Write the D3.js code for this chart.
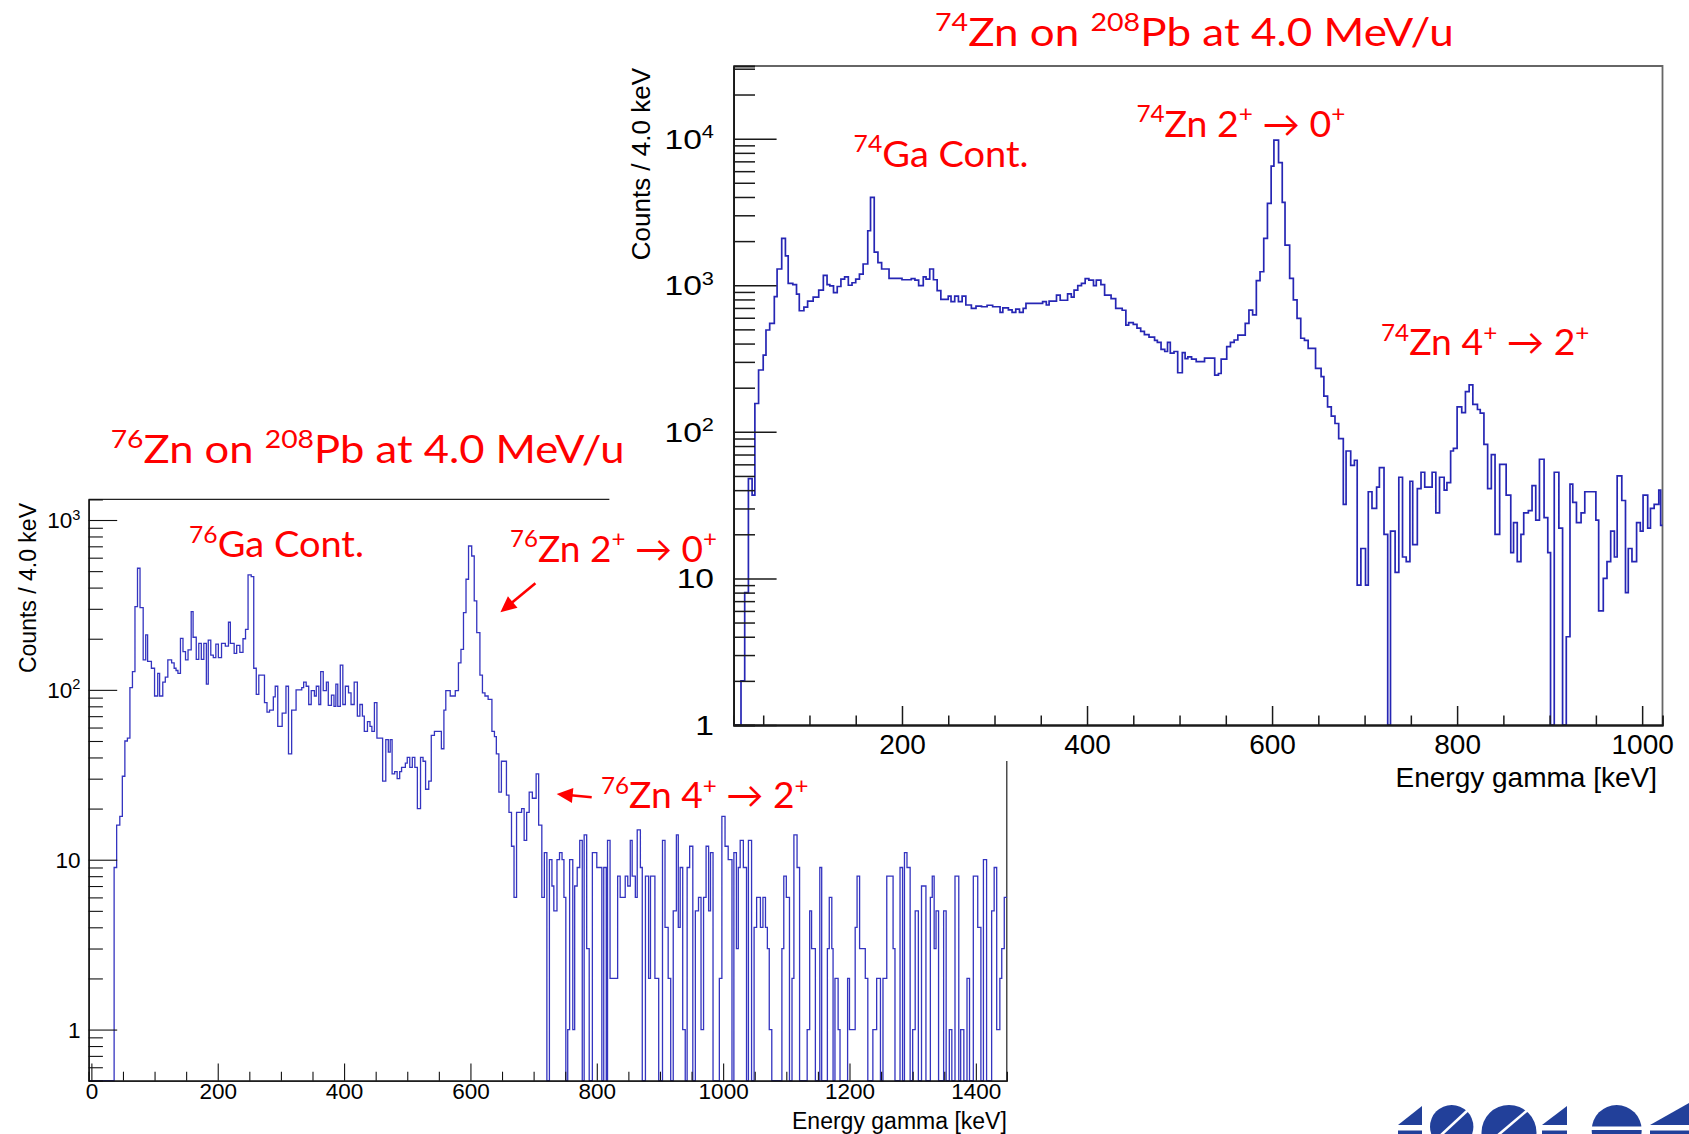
<!DOCTYPE html>
<html>
<head>
<meta charset="utf-8">
<script src="https://cdn.jsdelivr.net/npm/d3@7"></script>
<style>
  html, body { margin: 0; padding: 0; background: #fff; }
  svg { display: block; }
</style>
</head>
<body>
<svg id="chart" width="1689" height="1134"></svg>
<script>
// 74Zn spectrum: start energy of each step (keV) and its counts
const energy74 = [18, 26, 30, 34, 38, 41, 45, 50, 53, 57, 62, 65, 70, 74, 77, 82, 86, 89, 94, 98,
  104, 110, 115, 119, 122, 126, 130, 134, 138, 142, 146, 150, 154, 158, 163, 166, 170, 174, 178, 186,
  200, 210, 214, 218, 223, 226, 230, 234, 238, 242, 250, 253, 257, 261, 265, 269, 275, 280, 286, 292,
  298, 306, 309, 315, 319, 323, 327, 331, 334, 352, 356, 359, 367, 371, 379, 383, 386, 390, 394, 398,
  402, 407, 410, 415, 419, 426, 431, 438, 442, 445, 450, 454, 458, 462, 467, 473, 476, 480, 484, 487,
  490, 494, 498, 503, 506, 509, 513, 518, 527, 538, 542, 545, 551, 555, 559, 563, 571, 575, 579, 583,
  587, 591, 595, 599, 602, 607, 611, 614, 619, 623, 627, 631, 635, 639, 647, 653, 656, 660, 664, 668,
  672, 677, 680, 685, 689, 692, 696, 701, 704, 708, 713, 716, 721, 725, 728, 733, 737, 741, 745, 749,
  752, 757, 761, 765, 773, 777, 781, 786, 789, 793, 796, 800, 805, 809, 813, 817, 822, 825, 829, 833,
  837, 841, 846, 853, 858, 861, 865, 869, 872, 877, 881, 885, 889, 894, 898, 901, 905, 910, 914, 918,
  922, 925, 929, 934, 938, 950, 953, 958, 962, 966, 970, 973, 978, 982, 985, 989, 994, 998, 1001, 1006,
  1009, 1013, 1018, 1020];
const counts74 = [0, 2, 8, 48, 37, 156, 264, 334, 495, 550, 835, 1290, 2090, 1585, 1030, 1010, 870, 670, 708, 780,
  830, 927, 1168, 1010, 990, 889, 980, 1100, 1140, 1000, 1040, 1100, 1192, 1396, 2354, 3980, 1684, 1425, 1290, 1114,
  1090, 1110, 1085, 995, 1140, 1100, 1290, 1090, 918, 801, 844, 772, 844, 772, 844, 733, 695, 720, 713, 730,
  713, 653, 700, 680, 653, 686, 653, 695, 752, 772, 733, 780, 857, 790, 873, 830, 927, 995, 1030, 1110,
  1085, 995, 1085, 1010, 857, 810, 695, 675, 535, 556, 540, 510, 485, 460, 442, 421, 407, 365, 353, 407,
  344, 353, 253, 347, 316, 325, 313, 301, 318, 244, 250, 313, 381, 407, 423, 457, 549, 677, 627, 1074,
  1236, 2090, 3622, 6500, 9770, 6855, 3680, 1880, 1114, 795, 595, 435, 421, 371, 271, 238, 175, 148, 128, 114,
  90, 32, 74, 59, 64, 9, 16, 9, 39, 30, 42, 57, 20, 0, 21, 11, 49, 14, 13, 46,
  17, 41, 53, 42, 53, 28, 49, 40, 45, 74, 77, 148, 135, 188, 209, 154, 142, 134, 82, 41,
  70, 20, 60, 37, 15, 24, 13, 20, 28, 29, 43, 25, 65, 26, 15, 0, 53, 22, 0, 4,
  44, 33, 24, 28, 39, 25, 6, 10, 13, 21, 14, 50, 34, 8, 16, 13, 24, 21, 37, 22,
  30, 32, 40, 23];
const end74 = 1022;

// 76Zn spectrum
const energy76 = [-4, 36, 40, 45, 49, 53, 57, 61, 65, 69, 73, 77, 82, 86, 89, 95, 100, 105, 108, 113,
  117, 121, 127, 131, 134, 137, 141, 145, 149, 153, 158, 161, 166, 170, 174, 178, 182, 185, 189, 193,
  197, 201, 206, 212, 217, 220, 226, 230, 235, 240, 244, 248, 253, 257, 261, 265, 274, 278, 282, 288,
  291, 295, 302, 308, 312, 317, 324, 333, 336, 340, 344, 348, 353, 356, 360, 363, 367, 372, 375, 380,
  384, 387, 390, 394, 398, 402, 407, 411, 416, 421, 425, 429, 432, 437, 441, 444, 448, 452, 461, 466,
  470, 473, 476, 480, 484, 488, 491, 497, 500, 504, 508, 512, 516, 521, 525, 529, 534, 538, 543, 554,
  558, 561, 568, 576, 581, 585, 589, 593, 597, 602, 606, 610, 615, 619, 623, 628, 634, 638, 641, 645,
  649, 657, 661, 665, 669, 673, 681, 685, 689, 693, 698, 704, 708, 713, 717, 721, 725, 729, 732, 737,
  741, 745, 748, 751, 754, 757, 762, 765, 769, 773, 777, 780, 784, 788, 793, 800, 808, 811, 815, 817,
  821, 833, 837, 845, 849, 853, 856, 861, 864, 869, 872, 877, 882, 885, 892, 898, 904, 908, 913, 917,
  921, 926, 929, 932, 936, 940, 943, 947, 952, 956, 961, 965, 969, 973, 977, 980, 984, 994, 998, 1003,
  1008, 1014, 1017, 1021, 1024, 1027, 1032, 1037, 1040, 1045, 1049, 1053, 1059, 1063, 1067, 1070, 1073, 1077, 1093, 1096,
  1100, 1105, 1109, 1112, 1117, 1121, 1133, 1137, 1140, 1146, 1153, 1156, 1165, 1168, 1172, 1174, 1177, 1182, 1185, 1197,
  1200, 1209, 1212, 1216, 1225, 1229, 1237, 1243, 1249, 1253, 1259, 1269, 1272, 1280, 1284, 1287, 1291, 1296, 1300, 1304,
  1309, 1314, 1321, 1328, 1331, 1334, 1337, 1341, 1349, 1353, 1358, 1362, 1367, 1373, 1376, 1381, 1386, 1390, 1396, 1403,
  1408, 1412, 1417, 1425, 1429, 1433, 1438, 1441, 1445];
const counts76 = [0, 9, 16, 18, 31, 50, 52, 103, 128, 309, 520, 305, 150, 211, 147, 134, 92, 125, 92, 111,
  119, 150, 144, 134, 130, 125, 201, 168, 150, 172, 289, 204, 151, 188, 151, 188, 108, 196, 160, 155,
  186, 155, 188, 181, 250, 188, 164, 183, 166, 200, 227, 475, 464, 134, 94, 122, 84, 74, 76, 91,
  105, 61, 73, 105, 42, 76, 100, 103, 111, 105, 82, 99, 92, 105, 82, 128, 99, 111, 81, 93,
  80, 108, 80, 140, 82, 105, 96, 82, 111, 70, 82, 70, 57, 65, 61, 57, 84, 52, 29, 51,
  43, 51, 32, 33, 30, 33, 35, 37, 40, 35, 40, 35, 20, 40, 38, 26, 29, 54, 57, 45,
  76, 99, 92, 99, 144, 173, 285, 448, 703, 614, 334, 217, 122, 96, 92, 88, 57, 53, 42, 25,
  38, 24, 19, 12, 6, 19, 20, 13, 19, 25, 23, 32, 16, 6, 11, 0, 10, 7, 5, 10,
  11, 10, 6, 0, 1, 10, 1, 7, 9, 13, 0, 14, 3, 0, 11, 9, 0, 9, 0, 13,
  2, 8, 6, 8, 7, 13, 8, 6, 15, 9, 0, 8, 2, 8, 2, 0, 13, 4, 2, 0,
  5, 14, 4, 9, 1, 0, 9, 12, 0, 5, 6, 1, 6, 12, 5, 11, 0, 2, 18, 12,
  10, 0, 11, 3, 9, 13, 9, 0, 13, 0, 4, 6, 4, 6, 4, 3, 1, 0, 3, 8,
  6, 0, 2, 14, 9, 0, 1, 5, 3, 0, 9, 0, 3, 6, 3, 0, 2, 1, 0, 2,
  1, 4, 8, 3, 2, 0, 1, 2, 0, 2, 8, 3, 0, 9, 0, 11, 9, 0, 1, 5,
  0, 7, 0, 6, 8, 3, 5, 0, 5, 0, 1, 0, 8, 0, 1, 0, 2, 0, 8, 4,
  0, 10, 0, 5, 9, 1, 2, 3, 6];
const end76 = 1449;

// tick labels
const xTicks74 = [200, 400, 600, 800, 1000];
const yTicks74 = [1, 10, 100, 1000, 10000];
const xTicks76 = [0, 200, 400, 600, 800, 1000, 1200, 1400];
const yTicks76 = [1, 10, 100, 1000];

const svg = d3.select('#chart');
svg.append('rect').attr('width', 1689).attr('height', 1134).attr('fill', '#fff');

const axisFont = "'Liberation Sans', Arial, Helvetica, sans-serif";
const noteFont = "Lato, 'DejaVu Sans', sans-serif";

function minorLog(lo, hi) {
  const out = [];
  for (let e = -1; e <= 5; e++) {
    for (let m = 2; m <= 9; m++) {
      const v = m * Math.pow(10, e);
      if (v > lo && v < hi) out.push(v);
    }
  }
  return out;
}

function histPath(energy, counts, end, x, y) {
  const ymin = y.domain()[0];
  const pts = energy.map((e, i) => [e, counts[i]]);
  pts.push([end, counts[counts.length - 1]]);
  return d3.line()
    .x(d => x(d[0]))
    .y(d => y(Math.max(d[1], ymin)))
    .curve(d3.curveStepAfter)(pts);
}

function drawPanel(p) {
  const g = svg.append('g');
  const [yb, yt] = p.y.range();
  const [xl, xr] = p.x.range();

  // frame top / right (the lower panel is partly hidden by the upper one)
  const frame = p.clipTop !== undefined
    ? `M${xl},${yt}H${p.clipTop}M${xr},${p.rightFrom}V${yb}`
    : `M${xl},${yt}H${xr}V${yb}`;
  g.append('path').attr('d', frame)
    .attr('fill', 'none').attr('stroke', p.frameColor).attr('stroke-width', p.frameWidth);

  // histogram
  g.append('path')
    .attr('d', histPath(p.energy, p.counts, p.end, p.x, p.y))
    .attr('fill', 'none')
    .attr('stroke', p.lineColor)
    .attr('stroke-width', p.lineWidth);

  // x axis
  const xMinor = d3.range(0, p.x.domain()[1], 50).filter(v => v >= p.x.domain()[0] && p.xTicks.indexOf(v) < 0);
  const gxm = g.append('g').attr('transform', `translate(0,${yb})`)
    .call(d3.axisBottom(p.x).tickValues(xMinor).tickSize(-p.xMinLen).tickFormat(''));
  const gx = g.append('g').attr('transform', `translate(0,${yb})`)
    .call(d3.axisBottom(p.x).tickValues(p.xTicks).tickSizeInner(-p.xMajLen).tickSizeOuter(0)
      .tickPadding(p.xPad).tickFormat(d3.format('d')));
  [gxm, gx].forEach(a => {
    a.selectAll('line').attr('stroke', p.axisColor).attr('stroke-width', p.tickWidth);
    a.select('.domain').attr('stroke', p.axisColor).attr('stroke-width', p.axisWidth);
  });
  gx.selectAll('text').attr('fill', '#000').attr('font-family', axisFont).attr('font-size', p.fs);

  // y axis
  const gym = g.append('g').attr('transform', `translate(${xl},0)`)
    .call(d3.axisLeft(p.y).tickValues(minorLog(p.y.domain()[0], p.y.domain()[1])).tickSize(-p.yMinLen).tickFormat(''));
  const gy = g.append('g').attr('transform', `translate(${xl},0)`)
    .call(d3.axisLeft(p.y).tickValues(p.yTicks).tickSizeInner(-p.yMajLen).tickSizeOuter(0).tickFormat(''));
  [gym, gy].forEach(a => {
    a.selectAll('line').attr('stroke', p.axisColor).attr('stroke-width', p.tickWidth);
    a.select('.domain').attr('stroke', p.axisColor).attr('stroke-width', p.axisWidth);
  });

  p.yTicks.forEach(v => {
    const t = g.append('text')
      .attr('transform', `translate(${p.yLabelX},${p.y(v) + p.fs * 0.36}) scale(${p.yStretch},1)`)
      .attr('text-anchor', 'end')
      .attr('font-family', axisFont)
      .attr('font-size', p.fs)
      .attr('fill', '#000');
    const e = Math.round(Math.log10(v));
    if (e <= 1) {
      t.text(String(v));
    } else {
      t.append('tspan').text('10');
      t.append('tspan').attr('font-size', p.fs * 0.65).attr('dy', -p.fs * 0.38).text(String(e));
    }
  });

  // axis titles
  g.append('text')
    .attr('x', xr - p.xTitleInset).attr('y', p.xTitleY)
    .attr('text-anchor', 'end')
    .attr('font-family', axisFont).attr('font-size', p.titleFs).attr('fill', '#000')
    .text('Energy gamma [keV]');
  g.append('text')
    .attr('transform', `translate(${p.yTitleX},${p.yTitleTop}) rotate(-90)`)
    .attr('text-anchor', 'end')
    .attr('font-family', axisFont).attr('font-size', p.yTitleFs).attr('fill', '#000')
    .text('Counts / 4.0 keV');
}

// ---- lower-left panel (76Zn)
const x76 = d3.scaleLinear().domain([-4.4, 1449]).range([88.6, 1006.8]);
const y76 = d3.scaleLog().domain([0.5, 1324]).range([1080.7, 499.3]);
drawPanel({
  x: x76, y: y76, energy: energy76, counts: counts76, end: end76,
  xTicks: xTicks76, yTicks: yTicks76,
  lineColor: '#3434c0', lineWidth: 1.3,
  axisColor: '#111', axisWidth: 1.3, tickWidth: 1.1,
  frameColor: '#222', frameWidth: 1.2, rightFrom: 761, clipTop: 609.6,
  xMajLen: 17.3, xMinLen: 9, yMajLen: 28.6, yMinLen: 14.3,
  xPad: 2, fs: 22.5, yLabelX: 80.5, yStretch: 1,
  titleFs: 23, yTitleFs: 23, xTitleInset: 0, xTitleY: 1129, yTitleX: 36, yTitleTop: 503
});

// the upper-right panel sits on a white sheet over the first one
svg.append('rect').attr('x', 609.6).attr('y', 0).attr('width', 1689 - 609.6).attr('height', 761).attr('fill', '#fff');

// ---- upper-right panel (74Zn)
const x74 = d3.scaleLinear().domain([18, 1022]).range([733.6, 1662.5]);
const y74 = d3.scaleLog().domain([1, 31300]).range([725, 66]);
drawPanel({
  x: x74, y: y74, energy: energy74, counts: counts74, end: end74,
  xTicks: xTicks74, yTicks: yTicks74,
  lineColor: '#2626b4', lineWidth: 1.7,
  axisColor: '#1a1a1a', axisWidth: 1.8, tickWidth: 1.5,
  frameColor: '#666', frameWidth: 1.8,
  xMajLen: 19, xMinLen: 9.5, yMajLen: 43, yMinLen: 21.4,
  xPad: 9, fs: 28, yLabelX: 714, yStretch: 1.2,
  titleFs: 28, yTitleFs: 26, xTitleInset: 5.5, xTitleY: 787, yTitleX: 650, yTitleTop: 68
});

// ---- red titles and peak labels
function note(pieces, x, y, width, size) {
  const t = svg.append('text')
    .attr('font-family', noteFont)
    .attr('font-size', size)
    .attr('fill', '#ff0000');
  let up = false;
  pieces.forEach(([s, sup]) => {
    const sp = t.append('tspan').text(s);
    if (sup) {
      sp.attr('font-size', size * 0.65);
      if (!up) { sp.attr('dy', -size * 0.39); up = true; }
    } else if (up) {
      sp.attr('dy', size * 0.39); up = false;
    }
  });
  const bb = t.node().getBBox();
  const sx = width / bb.width;
  t.attr('transform', `translate(${x - bb.x * sx},${y}) scale(${sx},1)`);
}

function arrow(x1, y1, x2, y2) {
  const dx = x2 - x1, dy = y2 - y1, len = Math.hypot(dx, dy);
  const ux = dx / len, uy = dy / len, hl = 16, hw = 7.5;
  const bx = x2 - ux * hl, by = y2 - uy * hl;
  svg.append('line').attr('x1', x1).attr('y1', y1).attr('x2', bx + ux * 2).attr('y2', by + uy * 2)
    .attr('stroke', '#ff0000').attr('stroke-width', 2.6);
  svg.append('polygon')
    .attr('points', [[x2, y2], [bx - uy * hw, by + ux * hw], [bx + uy * hw, by - ux * hw]].map(p => p.join(',')).join(' '))
    .attr('fill', '#ff0000');
}

note([['74', 1], ['Zn on ', 0], ['208', 1], ['Pb at 4.0 MeV/u', 0]], 935, 46, 519, 39);
note([['76', 1], ['Zn on ', 0], ['208', 1], ['Pb at 4.0 MeV/u', 0]], 110.7, 463, 514, 39);
note([['74', 1], ['Ga Cont.', 0]], 853.6, 166.7, 175, 36.5);
note([['74', 1], ['Zn 2', 0], ['+', 1], [' \u2192 0', 0], ['+', 1]], 1136.4, 136.7, 209, 36.5);
note([['74', 1], ['Zn 4', 0], ['+', 1], [' \u2192 2', 0], ['+', 1]], 1381, 355, 208.5, 36.5);
note([['76', 1], ['Ga Cont.', 0]], 189, 557, 175, 36.5);
note([['76', 1], ['Zn 2', 0], ['+', 1], [' \u2192 0', 0], ['+', 1]], 510, 561.7, 207, 36.5);
note([['76', 1], ['Zn 4', 0], ['+', 1], [' \u2192 2', 0], ['+', 1]], 601, 808.3, 207.6, 36.5);

arrow(535.4, 583.3, 500.4, 612.3);
arrow(591.7, 797.3, 556.7, 794);

// ---- logo, cut by the bottom edge
const logo = svg.append('g').attr('fill', '#22409a');
[[1398, 1422], [1542, 1567]].forEach(([a, b]) => {
  logo.append('polygon').attr('points', `${a},1125 ${b},1106 ${b},1125`);
  logo.append('rect').attr('x', a).attr('y', 1130.5).attr('width', b - a).attr('height', 4);
});
logo.append('polygon').attr('points', '1650,1125 1689,1103 1689,1125');
logo.append('rect').attr('x', 1650).attr('y', 1130.5).attr('width', 39).attr('height', 4);
logo.append('circle').attr('cx', 1451.7).attr('cy', 1126.7).attr('r', 21.7);
logo.append('circle').attr('cx', 1509).attr('cy', 1132.5).attr('r', 27.5);
logo.append('circle').attr('cx', 1616.7).attr('cy', 1130).attr('r', 25);
svg.append('line').attr('x1', 1440).attr('y1', 1136).attr('x2', 1468).attr('y2', 1110)
  .attr('stroke', '#fff').attr('stroke-width', 2.6);
svg.append('line').attr('x1', 1497).attr('y1', 1136).attr('x2', 1530).attr('y2', 1108)
  .attr('stroke', '#fff').attr('stroke-width', 2.6);
svg.append('rect').attr('x', 1590).attr('y', 1126.5).attr('width', 54).attr('height', 3.5).attr('fill', '#fff');
</script>
</body>
</html>
